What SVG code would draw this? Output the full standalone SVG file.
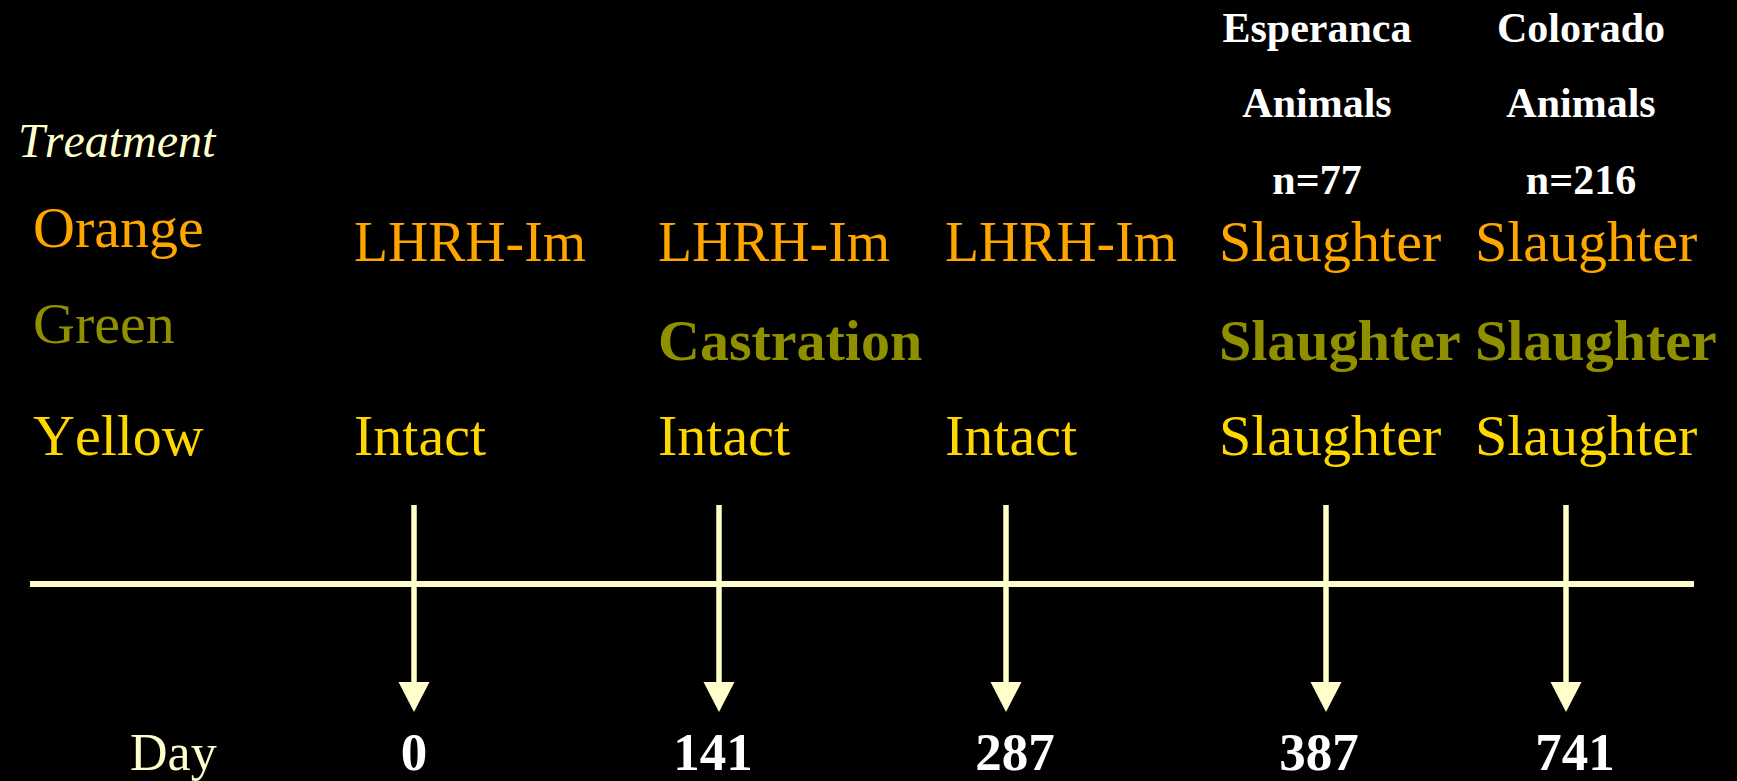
<svg xmlns="http://www.w3.org/2000/svg" width="1737" height="781" viewBox="0 0 1737 781">
<defs>
<style>
text{font-family:"Liberation Serif","Times New Roman",serif;font-kerning:none;}
.lbl{font-size:58px;}
.hdr{font-size:42px;font-weight:bold;fill:#FFFFFF;text-anchor:middle;}
.num{font-size:53px;font-weight:bold;fill:#FFFFFF;text-anchor:middle;}
.or{fill:#FFA500;}
.gr{fill:#8F8F00;font-weight:bold;}
.grl{fill:#8F8F00;}
.ye{fill:#FFD700;}
.cream{fill:#FFFFCC;}
.shaft{stroke:#FFFFCC;stroke-width:5.5;fill:none;}
.head{fill:#FFFFCC;}
</style>
</defs>
<rect x="0" y="0" width="1737" height="781" fill="#000000"/>
<g id="legend">
<text x="18" y="157" class="cream" font-size="48" font-style="italic">Treatment</text>
<text x="33" y="247" class="lbl or">Orange</text>
<text x="33" y="343" class="lbl grl">Green</text>
<text x="33" y="455" class="lbl ye">Yellow</text>
</g>
<g id="headers">
<text x="1317" y="42" class="hdr">Esperanca</text>
<text x="1317" y="117" class="hdr">Animals</text>
<text x="1317" y="194" class="hdr">n=77</text>
<text x="1581" y="42" class="hdr">Colorado</text>
<text x="1581" y="117" class="hdr">Animals</text>
<text x="1581" y="194" class="hdr">n=216</text>
</g>
<g id="col-day0">
<text x="354" y="261" class="lbl or" textLength="232" lengthAdjust="spacingAndGlyphs">LHRH-Im</text>
<text x="354" y="455" class="lbl ye">Intact</text>
</g>
<g id="col-day141">
<text x="658" y="261" class="lbl or" textLength="232" lengthAdjust="spacingAndGlyphs">LHRH-Im</text>
<text x="658" y="360" class="lbl gr">Castration</text>
<text x="658" y="455" class="lbl ye">Intact</text>
</g>
<g id="col-day287">
<text x="945" y="261" class="lbl or" textLength="232" lengthAdjust="spacingAndGlyphs">LHRH-Im</text>
<text x="945" y="455" class="lbl ye">Intact</text>
</g>
<g id="col-day387">
<text x="1219" y="261" class="lbl or">Slaughter</text>
<text x="1219" y="360" class="lbl gr">Slaughter</text>
<text x="1219" y="455" class="lbl ye">Slaughter</text>
</g>
<g id="col-day741">
<text x="1475" y="261" class="lbl or">Slaughter</text>
<text x="1475" y="360" class="lbl gr">Slaughter</text>
<text x="1475" y="455" class="lbl ye">Slaughter</text>
</g>
<g id="connectors">
<line x1="30" y1="584" x2="1694" y2="584" stroke="#FFFFCC" stroke-width="6"/>
<line x1="414" y1="505" x2="414" y2="684" class="shaft"/>
<polygon points="398.5,682 429.5,682 414,712" class="head"/>
<line x1="719" y1="505" x2="719" y2="684" class="shaft"/>
<polygon points="703.5,682 734.5,682 719,712" class="head"/>
<line x1="1006" y1="505" x2="1006" y2="684" class="shaft"/>
<polygon points="990.5,682 1021.5,682 1006,712" class="head"/>
<line x1="1326" y1="505" x2="1326" y2="684" class="shaft"/>
<polygon points="1310.5,682 1341.5,682 1326,712" class="head"/>
<line x1="1566" y1="505" x2="1566" y2="684" class="shaft"/>
<polygon points="1550.5,682 1581.5,682 1566,712" class="head"/>
</g>
<g id="days">
<text x="130" y="770" class="cream" font-size="52">Day</text>
<text x="414" y="770" class="num">0</text>
<text x="713" y="770" class="num">141</text>
<text x="1015" y="770" class="num">287</text>
<text x="1319" y="770" class="num">387</text>
<text x="1575" y="770" class="num">741</text>
</g>
</svg>
